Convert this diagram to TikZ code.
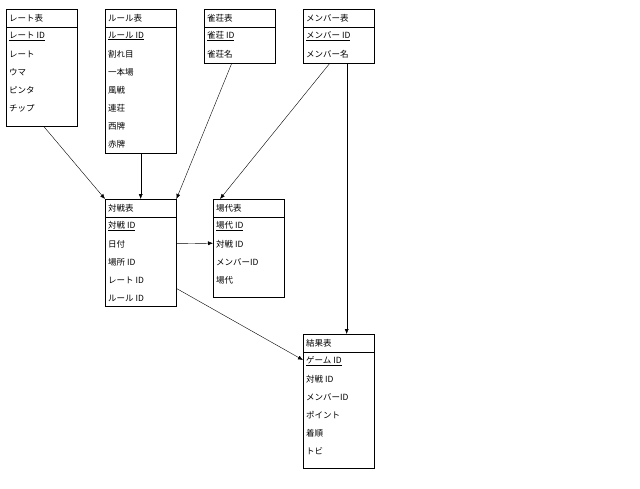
\documentclass[tikz,border=0pt]{standalone}
\usepackage{fontspec}
\setmainfont{Noto Sans CJK JP}
\usetikzlibrary{arrows.meta, positioning, calc}

% one table: name, x, y, height, title, key, rows
\newcommand{\dbtable}[7]{%
  \node[tbl, minimum height=#4] (#1) at (#2,#3) {};
  \draw ($(#1.north west)+(0,18)$) -- ($(#1.north east)+(0,18)$);
  \node[cell] (#1-title) at ($(#1.north west)+(2,9)$) {#5};
  \node[cell] (#1-key) at ($(#1.north west)+(2,27)$) {\underline{#6}};
  \foreach \r [count=\i] in {#7} {
    \node[cell] at ($(#1.north west)+(2,27+18*\i)$) {\r};
  }%
}

\begin{document}
\begin{tikzpicture}[
        x=1pt, y=-1pt,
        tbl/.style={rectangle, draw, anchor=north west, minimum width=71pt, inner sep=0pt},
        cell/.style={anchor=west, font=\fontsize{8.5}{10}\selectfont, inner sep=1pt},
        arrow/.style={-{Latex[length=5pt, width=4pt]}}
    ]
        \useasboundingbox (0,0) rectangle (640,488);

        \dbtable{rate}{6}{9}{117}{レート表}{レート ID}{レート,ウマ,ピンタ,チップ}
        \dbtable{rule}{105}{9}{144}{ルール表}{ルール ID}{割れ目,一本場,風戦,連荘,西牌,赤牌}
        \dbtable{jansou}{204}{9}{54}{雀荘表}{雀荘 ID}{雀荘名}
        \dbtable{member}{303}{9}{54}{メンバー表}{メンバー ID}{メンバー名}
        \dbtable{taisen}{105}{199}{107}{対戦表}{対戦 ID}{日付,場所 ID,レート ID,ルール ID}
        \dbtable{badai}{213}{199}{98}{場代表}{場代 ID}{対戦 ID,メンバーID,場代}
        \dbtable{kekka}{303}{334}{134}{結果表}{ゲーム ID}{対戦 ID,メンバーID,ポイント,着順,トビ}

        \draw [arrow] ([xshift=2]rate.south) -- (taisen.north west);
        \draw [arrow] (rule.south) -- (taisen.north);
        \draw [arrow] ([xshift=-8]jansou.south) -- (taisen.north east);
        \draw [arrow] ([xshift=-9]member.south) -- ([xshift=7]badai.north west);
        \draw [arrow] ([xshift=8]member.south) -- ([xshift=8]kekka.north);
        \draw [arrow] ([yshift=9]taisen.east) -- ([yshift=5]badai.west);
        \draw [arrow] ([yshift=18]taisen.south east) -- ([yshift=-26]kekka.north west);

    \end{tikzpicture}
\end{document}
